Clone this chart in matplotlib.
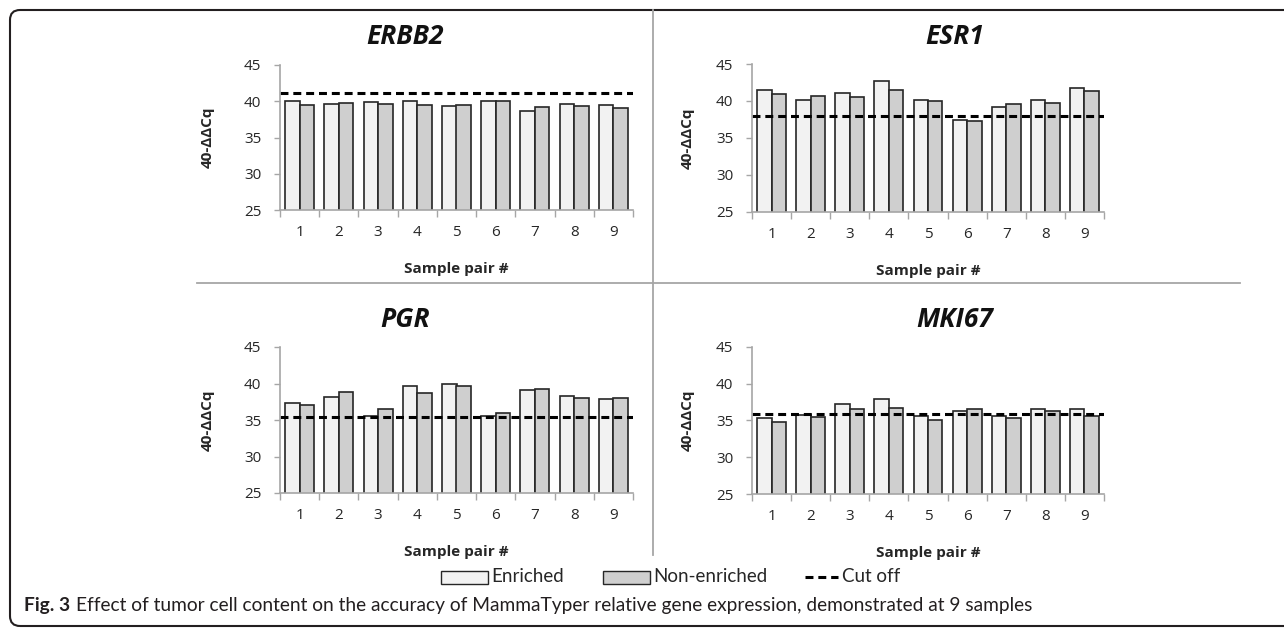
import numpy as np
import matplotlib.pyplot as plt
from matplotlib.patches import Rectangle, FancyBboxPatch
from matplotlib.lines import Line2D
from matplotlib.transforms import IdentityTransform

# Dados
amostras = ['1', '2', '3', '4', '5', '6', '7', '8', '9']
genes = ['ERBB2', 'ESR1', 'PGR', 'MKI67']

enriched = {
    'ERBB2': [40.05, 39.6, 39.95, 40.1, 39.35, 40.0, 38.65, 39.6, 39.55],
    'ESR1': [41.5, 40.2, 41.05, 42.75, 40.2, 37.5, 39.2, 40.2, 41.75],
    'PGR': [37.35, 38.2, 35.55, 39.65, 40.0, 35.55, 39.15, 38.25, 37.9],
    'MKI67': [35.35, 35.75, 37.2, 37.95, 35.65, 36.25, 35.55, 36.5, 36.6],
}
non_enriched = {
    'ERBB2': [39.45, 39.75, 39.65, 39.45, 39.45, 40.05, 39.2, 39.3, 39.1],
    'ESR1': [40.9, 40.7, 40.6, 41.5, 40.05, 37.35, 39.6, 39.7, 41.35],
    'PGR': [37.1, 38.8, 36.55, 38.75, 39.7, 36.0, 39.3, 38.0, 38.05],
    'MKI67': [34.8, 35.5, 36.6, 36.75, 35.1, 36.5, 35.35, 36.3, 35.55],
}
cutoff = {'ERBB2': 41.15, 'ESR1': 38.0, 'PGR': 35.45, 'MKI67': 35.9}

W, H = 1284, 628
fig = plt.figure(figsize=(W / 100, H / 100), dpi=100)
plt.rcParams['font.family'] = ['Open Sans', 'DejaVu Sans']

cor_claro = '#f2f2f2'
cor_escuro = '#cfcfcf'
cor_borda = '#262626'
cinza = '#a6a6a6'
narrow = ['Lato', 'DejaVu Sans']

# posicoes dos paineis em pixels: esquerda, direita, topo, base
paineis = {
    'ERBB2': (280, 633, 65, 210),
    'ESR1': (752, 1104, 64, 212),
    'PGR': (280, 633, 347, 493),
    'MKI67': (752, 1104, 347, 494),
}
titulo_x = {'ERBB2': 405, 'ESR1': 955, 'PGR': 405, 'MKI67': 955}
ylabel_x = {'ERBB2': 208, 'ESR1': 688, 'PGR': 208, 'MKI67': 688}

x = np.arange(len(amostras))
w = 0.37

for g in genes:
    l, r, t, b = paineis[g]
    ax = fig.add_axes([l / W, 1 - b / H, (r - l) / W, (b - t) / H])
    ax.bar(x - w / 2, enriched[g], w, color=cor_claro, edgecolor=cor_borda, linewidth=1.2)
    ax.bar(x + w / 2, non_enriched[g], w, color=cor_escuro, edgecolor=cor_borda, linewidth=1.2)
    ax.axhline(cutoff[g], color='black', lw=2.2, linestyle=(0, (2.6, 1.6)))
    ax.set_xlim(-0.5, 8.5)
    ax.set_ylim(25, 45)
    ax.set_yticks([25, 30, 35, 40, 45])
    ax.set_xticks(x)
    ax.set_xticklabels(amostras)
    ax.set_xticks(np.arange(-0.5, 9, 1), minor=True)
    ax.tick_params(axis='x', which='major', length=0, pad=11, labelsize=11, labelcolor='#262626')
    ax.tick_params(axis='x', which='minor', length=5, color=cinza, width=1)
    ax.tick_params(axis='y', length=4.5, color=cinza, width=1, pad=9, labelsize=11, labelcolor='#262626')
    for s in ['top', 'right']:
        ax.spines[s].set_visible(False)
    for s in ['left', 'bottom']:
        ax.spines[s].set_color(cinza)
        ax.spines[s].set_linewidth(1.2)
    fig.text(titulo_x[g] / W, 1 - (t - 28) / H, g, fontsize=19, fontweight='bold',
             fontstyle='italic', ha='center', va='center', color='#111111')
    fig.text(ylabel_x[g] / W, 1 - ((t + b) / 2) / H, '40-ΔΔCq', fontsize=11,
             fontweight='bold', rotation=90, ha='center', va='center', color='#262626')
    fig.text((l + r) / 2 / W, 1 - (b + 59) / H, 'Sample pair #', fontsize=11,
             fontweight='bold', ha='center', va='center', color='#262626')

# divisores
fig.add_artist(Line2D([653 / W, 653 / W], [1 - 10 / H, 1 - 555 / H], color=cinza, lw=1.3))
fig.add_artist(Line2D([197 / W, 1240 / W], [1 - 283 / H, 1 - 283 / H], color=cinza, lw=1.3))

# legenda
ly = 577
fig.add_artist(Rectangle((441 / W, 1 - (ly + 6.5) / H), 47 / W, 13 / H,
                         facecolor=cor_claro, edgecolor=cor_borda, lw=1.0))
fig.text(491 / W, 1 - ly / H, 'Enriched', fontsize=13.5, family=narrow, va='center', color='#262626')
fig.add_artist(Rectangle((603 / W, 1 - (ly + 6.5) / H), 47 / W, 13 / H,
                         facecolor=cor_escuro, edgecolor=cor_borda, lw=1.0))
fig.text(653 / W, 1 - ly / H, 'Non-enriched', fontsize=13.5, family=narrow, va='center', color='#262626')
fig.add_artist(Line2D([805 / W, 838 / W], [1 - ly / H, 1 - ly / H], color='black', lw=2.2,
                      linestyle=(0, (2.6, 1.6))))
fig.text(842 / W, 1 - ly / H, 'Cut off', fontsize=13.5, family=narrow, va='center', color='#262626')

# legenda da figura
fig3 = fig.text(24 / W, 1 - 605 / H, 'Fig. 3', fontsize=13.8, family=narrow, fontweight='bold',
                va='center', color='#231f20')
renderer = fig.canvas.get_renderer()
fim = fig3.get_window_extent(renderer).x1
fig.text((fim + 6) / W, 1 - 605 / H,
         'Effect of tumor cell content on the accuracy of MammaTyper relative gene expression, '
         'demonstrated at 9 samples', fontsize=13.8, family=narrow, va='center', color='#231f20')

# moldura
fig.add_artist(FancyBboxPatch((10, H - 626), W + 40, 616, boxstyle='round,pad=0,rounding_size=10',
                              transform=IdentityTransform(), facecolor='none',
                              edgecolor='#231f20', lw=1.5))

plt.savefig('out.png', dpi=100)
